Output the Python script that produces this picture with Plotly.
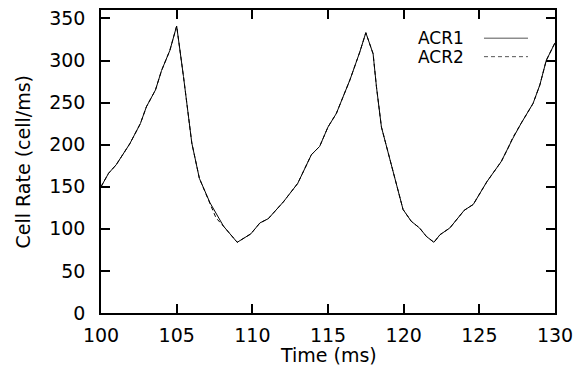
import plotly.graph_objects as go

# Time (ms)
time_acr1 = [100.0, 100.5, 101.0, 101.9, 102.6, 103.0, 103.6, 104.0, 104.55, 105.0,
             105.45, 106.0, 106.5, 107.2, 108.1, 109.0, 109.9, 110.5, 111.05, 112.05,
             113.0, 113.9, 114.45, 115.0, 115.55, 116.45, 117.1, 117.5, 117.98, 118.2,
             118.53, 119.2, 119.96, 120.5, 121.05, 121.5, 122.0, 122.4, 123.05, 124.0,
             124.6, 125.5, 126.45, 127.2, 127.75, 128.55, 129.0, 129.42, 130.0]
# Cell rate (cell/ms)
rate_acr1 = [150, 166, 176, 201, 225, 245, 265, 288, 312, 341,
             281, 202, 160, 131, 103, 84, 94, 107, 112, 132,
             154, 188, 198, 221, 237, 277, 310, 333, 308, 269,
             221, 174, 123, 109, 101, 91, 84, 93, 101, 122,
             129, 156, 180, 207, 225, 249, 271, 300, 321]

time_acr2 = [100.0, 100.5, 101.0, 101.9, 102.6, 103.0, 103.6, 104.0, 104.55, 105.0,
             105.45, 106.0, 106.5, 107.25, 107.6, 108.1, 109.0, 109.9, 110.5, 111.05, 112.05,
             113.0, 113.9, 114.45, 115.0, 115.55, 116.45, 117.1, 117.5, 117.98, 118.2,
             118.53, 119.2, 119.96, 120.5, 121.05, 121.5, 122.0, 122.4, 123.05, 124.0,
             124.6, 125.5, 126.45, 126.9, 127.2, 127.75, 128.55, 129.0, 129.42, 130.0]
rate_acr2 = [150, 166, 176, 201, 225, 245, 265, 288, 312, 341,
             281, 202, 160, 127, 113, 103, 84, 94, 107, 112, 132,
             154, 188, 198, 221, 237, 277, 310, 333, 308, 269,
             221, 174, 123, 109, 101, 91, 84, 93, 101, 122,
             129, 156, 180, 196, 208, 225, 249, 271, 300, 321]

x_ticks = [100, 105, 110, 115, 120, 125, 130]
y_ticks = [0, 50, 100, 150, 200, 250, 300, 350]
series_names = ["ACR1", "ACR2"]

FONT = "DejaVu Sans"
FS = 19

fig = go.Figure()
fig.add_trace(go.Scatter(x=time_acr2, y=rate_acr2, mode="lines", name=series_names[1],
                         line=dict(color="black", width=1, dash="4px,3px")))
fig.add_trace(go.Scatter(x=time_acr1, y=rate_acr1, mode="lines", name=series_names[0],
                         line=dict(color="black", width=1)))

axis_common = dict(showline=True, linecolor="black", linewidth=1.5, mirror="ticks",
                   ticks="inside", ticklen=9, tickwidth=1.5, tickcolor="black",
                   showgrid=False, zeroline=False, automargin=False,
                   tickfont=dict(family=FONT, size=FS, color="black"))

fig.update_xaxes(range=[100, 130], tickvals=x_ticks, ticklabelstandoff=4, **axis_common)
fig.update_yaxes(range=[0, 360], tickvals=y_ticks, ticklabelstandoff=10, **axis_common)

# axis titles
fig.add_annotation(x=0.5, y=-0.1375, xref="paper", yref="paper", text="Time (ms)",
                   showarrow=False, xanchor="center", yanchor="middle",
                   font=dict(family=FONT, size=FS, color="black"))
fig.add_annotation(x=-0.174, y=0.5, xref="paper", yref="paper", text="Cell Rate (cell/ms)",
                   showarrow=False, xanchor="center", yanchor="middle", textangle=-90,
                   font=dict(family=FONT, size=FS, color="black"))

# gnuplot-style key: text then line sample
key_x_text = 0.802
key_line_x0, key_line_x1 = 0.8436, 0.9405
key_y = [0.907, 0.846]
dashes = ["solid", "4px,3px"]
for name, ky, dsh in zip(series_names, key_y, dashes):
    fig.add_annotation(x=key_x_text, y=ky, xref="paper", yref="paper", text=name,
                       showarrow=False, xanchor="right", yanchor="middle", borderpad=0,
                       font=dict(family=FONT, size=17, color="black"))
    fig.add_shape(type="line", xref="paper", yref="paper", x0=key_line_x0, x1=key_line_x1,
                  y0=ky, y1=ky, line=dict(color="#555555", width=1, dash=dsh))

fig.update_layout(width=579, height=367, margin=dict(l=101, r=24, t=10, b=54, autoexpand=False),
                  plot_bgcolor="white", paper_bgcolor="white", showlegend=False,
                  font=dict(family=FONT, size=FS, color="black"))

fig.write_html("out.html", config={"displayModeBar": False},
               post_script="document.body.style.margin='0';")
